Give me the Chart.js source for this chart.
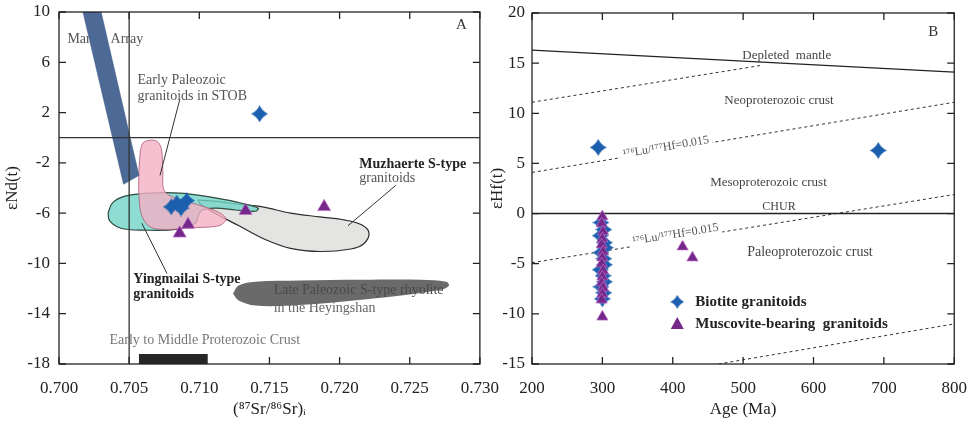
<!DOCTYPE html>
<html>
<head>
<meta charset="utf-8">
<script src="https://cdn.jsdelivr.net/npm/chart.js@4.4.1/dist/chart.umd.min.js"></script>
<style>
  html, body { margin: 0; padding: 0; background: #fff; }
  #wrap { position: relative; width: 975px; height: 422px; overflow: hidden; }
  .panel { position: absolute; top: 0; height: 422px; }
  #panelA { left: 0; width: 513px; }
  #panelB { left: 487px; width: 494px; }
</style>
</head>
<body>
<div id="wrap">
  <div class="panel" id="panelA"><canvas id="chartA"></canvas></div>
  <div class="panel" id="panelB"><canvas id="chartB"></canvas></div>
</div>
<script>
// ---------- Panel A: eNd(t) vs (87Sr/86Sr)i ----------
const srTicks = [0.700, 0.705, 0.710, 0.715, 0.720, 0.725, 0.730];
const ndTicks = [10, 6, 2, -2, -6, -10, -14, -18];

const biotiteA = [
  {x: 0.7143, y: 1.9},
  {x: 0.7080, y: -5.5}, {x: 0.7084, y: -5.2}, {x: 0.7091, y: -5.0}, {x: 0.7087, y: -5.6}
];
const muscoviteA = [
  {x: 0.7086, y: -7.6}, {x: 0.7092, y: -6.9}, {x: 0.7133, y: -5.8}, {x: 0.7189, y: -5.5}
];

// reference fields (outlines in data units)
const mantleArray = [
  {x: 0.7016, y: 10.5}, {x: 0.7029, y: 10.5}, {x: 0.7057, y: -3.0}, {x: 0.7046, y: -3.7}, {x: 0.7016, y: 10.5}
];
const stobField = [
  {x: 0.7058, y: -1.0}, {x: 0.7060, y: -0.4}, {x: 0.7065, y: -0.2}, {x: 0.7070, y: -0.3}, {x: 0.7073, y: -0.9},
  {x: 0.7074, y: -2.6}, {x: 0.7075, y: -4.2}, {x: 0.7083, y: -4.8}, {x: 0.7101, y: -5.4}, {x: 0.7115, y: -6.0},
  {x: 0.7119, y: -6.5}, {x: 0.7114, y: -7.0}, {x: 0.7097, y: -7.15}, {x: 0.7076, y: -7.3}, {x: 0.7065, y: -7.1},
  {x: 0.7059, y: -6.2}, {x: 0.7057, y: -4.6}, {x: 0.7057, y: -2.6}, {x: 0.7058, y: -1.0}
];
const yingmailaiField = [
  {x: 0.7035, y: -6.0}, {x: 0.7038, y: -5.2}, {x: 0.7047, y: -4.65}, {x: 0.7065, y: -4.4}, {x: 0.7086, y: -4.4},
  {x: 0.7104, y: -4.65}, {x: 0.7126, y: -5.1}, {x: 0.7142, y: -5.6}, {x: 0.7140, y: -5.85}, {x: 0.7126, y: -5.75},
  {x: 0.7111, y: -5.6}, {x: 0.7101, y: -5.85}, {x: 0.7097, y: -6.8}, {x: 0.7083, y: -7.3}, {x: 0.7061, y: -7.35},
  {x: 0.7044, y: -7.2}, {x: 0.7036, y: -6.6}, {x: 0.7035, y: -6.0}
];
const muzhaerteField = [
  {x: 0.7099, y: -4.95}, {x: 0.7111, y: -5.05}, {x: 0.7129, y: -5.3}, {x: 0.7145, y: -5.5}, {x: 0.7165, y: -6.0},
  {x: 0.7186, y: -6.3}, {x: 0.7204, y: -6.55}, {x: 0.7216, y: -6.95}, {x: 0.7221, y: -7.6}, {x: 0.7217, y: -8.45},
  {x: 0.7208, y: -8.85}, {x: 0.7186, y: -9.05}, {x: 0.7165, y: -8.8}, {x: 0.7147, y: -8.1}, {x: 0.7129, y: -7.05},
  {x: 0.7111, y: -6.0}, {x: 0.7101, y: -5.3}, {x: 0.7099, y: -4.95}
];
const heyingshanField = [
  {x: 0.7124, y: -12.4}, {x: 0.7128, y: -11.75}, {x: 0.7140, y: -11.45}, {x: 0.7172, y: -11.35}, {x: 0.7215, y: -11.3},
  {x: 0.7258, y: -11.3}, {x: 0.7276, y: -11.45}, {x: 0.7278, y: -11.75}, {x: 0.7272, y: -12.1}, {x: 0.7244, y: -12.55},
  {x: 0.7201, y: -13.05}, {x: 0.7165, y: -13.35}, {x: 0.7140, y: -13.35}, {x: 0.7128, y: -12.95}, {x: 0.7124, y: -12.4}
];
const crustBox = [
  {x: 0.7057, y: -17.2}, {x: 0.7106, y: -17.2}, {x: 0.7106, y: -18}, {x: 0.7057, y: -18}, {x: 0.7057, y: -17.2}
];
const chondriteNd = [{x: 0.700, y: 0}, {x: 0.730, y: 0}];
const bulkEarthSr = [{x: 0.705, y: -18}, {x: 0.705, y: 10}];
const leaderStob = [{x: 0.7086, y: 3.0}, {x: 0.7072, y: -3.0}];
const leaderMuzhaerte = [{x: 0.7240, y: -3.8}, {x: 0.7206, y: -7.0}];
const leaderYingmailai = [{x: 0.7059, y: -6.8}, {x: 0.7077, y: -10.8}];

// ---------- Panel B: eHf(t) vs age ----------
const ageTicks = [200, 300, 400, 500, 600, 700, 800];
const hfTicks = [20, 15, 10, 5, 0, -5, -10, -15];

const biotiteB = [
  {x: 294, y: 6.6}, {x: 692, y: 6.3},
  {x: 298, y: -0.9}, {x: 302, y: -1.6}, {x: 297, y: -2.2}, {x: 303, y: -2.9}, {x: 304, y: -3.4},
  {x: 298, y: -3.9}, {x: 302, y: -4.5}, {x: 303, y: -5.1}, {x: 297, y: -5.6}, {x: 301, y: -6.2},
  {x: 303, y: -6.8}, {x: 298, y: -7.3}, {x: 302, y: -7.9}, {x: 300, y: -8.5}
];
const muscoviteB = [
  {x: 300, y: -10.3}, {x: 414, y: -3.3}, {x: 428, y: -4.4},
  {x: 300, y: -0.3}, {x: 299, y: -1.0}, {x: 301, y: -1.8}, {x: 300, y: -2.5}, {x: 299, y: -3.1},
  {x: 301, y: -3.8}, {x: 300, y: -4.4}, {x: 299, y: -5.0}, {x: 301, y: -5.7}, {x: 300, y: -6.3},
  {x: 299, y: -6.9}, {x: 301, y: -7.4}, {x: 300, y: -8.0}, {x: 299, y: -8.6}
];
const depletedMantle = [{x: 200, y: 16.3}, {x: 800, y: 14.1}];
const churLine = [{x: 200, y: 0}, {x: 800, y: 0}];
const crustLine1 = [{x: 200, y: 11.1}, {x: 528, y: 14.8}];
const crustLine2 = [{x: 200, y: 4.1}, {x: 800, y: 11.1}];
const crustLine3 = [{x: 200, y: -4.9}, {x: 800, y: 1.9}];
const crustLine4 = [{x: 465, y: -15.0}, {x: 800, y: -11.0}];

const serif = '"Liberation Serif", "Times New Roman", serif';
const BLUE = '#1b5fae';
const PURPLE = '#74288a';

// four-point star used for the biotite symbol
function starImage(size, color) {
  const c = document.createElement('canvas');
  c.width = c.height = size;
  const g = c.getContext('2d');
  const h = size / 2, k = h * 0.32;
  g.fillStyle = color;
  g.beginPath();
  g.moveTo(h, 0);
  g.quadraticCurveTo(h + k, h - k, size, h);
  g.quadraticCurveTo(h + k, h + k, h, size);
  g.quadraticCurveTo(h - k, h + k, 0, h);
  g.quadraticCurveTo(h - k, h - k, h, 0);
  g.fill();
  return c;
}
const starBig = starImage(17, BLUE);
const starSmall = starImage(14, BLUE);

function field(data, fill, border, width, tension, order) {
  return {data, showLine: true, fill: 'shape', backgroundColor: fill, borderColor: border,
    borderWidth: width, pointRadius: 0, tension, order};
}
function line(data, color, width, dash, order) {
  return {data, showLine: true, fill: false, borderColor: color, borderWidth: width,
    borderDash: dash, pointRadius: 0, tension: 0, order};
}
function triangles(data, r, order) {
  return {data, showLine: false, pointStyle: 'triangle', pointRadius: r,
    backgroundColor: PURPLE, borderColor: 'rgba(190,110,200,0.7)', borderWidth: 1, order};
}
function stars(data, img, order) {
  return {data, showLine: false, pointStyle: img, pointRadius: 8, order};
}

// lh: label line height, kept small on the y axes so the top label overhang stays inside the padding
function linearAxis(values, min, max, size, fmt, title, tickPad, titlePad, lh) {
  return {
    type: 'linear', min, max,
    afterBuildTicks: s => { s.ticks = values.map(v => ({value: v})); },
    afterFit: s => { if (s.isHorizontal()) s.height = size; else s.width = size; },
    grid: {display: false, drawTicks: false},
    border: {display: false},
    ticks: {autoSkip: false, maxRotation: 0, padding: tickPad, color: '#222',
      font: {family: serif, size: 17, lineHeight: lh}, callback: fmt},
    title: {display: true, text: title, color: '#222', font: {family: serif, size: 17}, padding: titlePad}
  };
}

// box frame with inward ticks on all four sides
const frameTicks = {
  id: 'frameTicks',
  afterDraw(chart) {
    const {ctx, chartArea: a, scales: {x, y}} = chart;
    ctx.save();
    ctx.strokeStyle = '#222';
    ctx.lineWidth = 1.3;
    ctx.strokeRect(a.left, a.top, a.right - a.left, a.bottom - a.top);
    ctx.beginPath();
    x.ticks.forEach(t => {
      const p = x.getPixelForValue(t.value);
      ctx.moveTo(p, a.bottom); ctx.lineTo(p, a.bottom - 7);
      ctx.moveTo(p, a.top); ctx.lineTo(p, a.top + 7);
    });
    y.ticks.forEach(t => {
      const p = y.getPixelForValue(t.value);
      ctx.moveTo(a.left, p); ctx.lineTo(a.left + 7, p);
      ctx.moveTo(a.right, p); ctx.lineTo(a.right - 7, p);
    });
    ctx.stroke();
    ctx.restore();
  }
};

function yOnLine(pts, x) {
  const [p, q] = pts;
  return p.y + (q.y - p.y) * (x - p.x) / (q.x - p.x);
}

function drawMarker(ctx, kind, px, py) {
  if (kind === 'star') {
    ctx.drawImage(starSmall, px - 7, py - 7);
  } else {
    ctx.fillStyle = PURPLE;
    ctx.beginPath();
    ctx.moveTo(px, py - 7);
    ctx.lineTo(px + 6.5, py + 5);
    ctx.lineTo(px - 6.5, py + 5);
    ctx.closePath();
    ctx.fill();
  }
}

function drawNotes(chart, items) {
  const {ctx, scales: {x, y}} = chart;
  items.forEach(n => {
    let vy = n.y;
    let angle = 0;
    if (n.on) {
      vy = yOnLine(n.on, n.x);
      const a = n.on[0], b = n.on[1];
      angle = Math.atan2(y.getPixelForValue(b.y) - y.getPixelForValue(a.y),
        x.getPixelForValue(b.x) - x.getPixelForValue(a.x));
    }
    ctx.save();
    ctx.translate(x.getPixelForValue(n.x), y.getPixelForValue(vy));
    ctx.rotate(angle);
    ctx.font = (n.bold ? 'bold ' : '') + (n.size || 13) + 'px ' + serif;
    ctx.textAlign = n.align || 'left';
    ctx.textBaseline = 'middle';
    const dy = n.offset || 0;
    if (n.on) {
      const w = ctx.measureText(n.text).width;
      ctx.fillStyle = '#fff';
      ctx.fillRect(-w / 2 - 3, dy - 7, w + 6, 14);
    }
    if (n.marker) drawMarker(ctx, n.marker, -18, 0);
    ctx.fillStyle = n.color || '#333';
    ctx.fillText(n.text, 0, dy);
    ctx.restore();
  });
}
function notesPlugin(items) {
  return {
    id: 'notes',
    beforeDatasetsDraw(chart) { drawNotes(chart, items.filter(n => n.under)); },
    afterDatasetsDraw(chart) { drawNotes(chart, items.filter(n => !n.under)); }
  };
}

const notesA = [
  {text: 'Mantle Array', x: 0.7006, y: 7.8, size: 14, color: '#555', under: true},
  {text: 'A', x: 0.7283, y: 9.0, size: 15, color: '#333'},
  {text: 'Early Paleozoic', x: 0.7056, y: 4.6, size: 14, color: '#555'},
  {text: 'granitoids in STOB', x: 0.7056, y: 3.3, size: 14, color: '#555'},
  {text: 'Muzhaerte S-type', x: 0.7214, y: -2.1, size: 14, bold: true, color: '#222'},
  {text: 'granitoids', x: 0.7214, y: -3.2, size: 14, color: '#555'},
  {text: 'Yingmailai S-type', x: 0.7053, y: -11.3, size: 14, bold: true, color: '#222'},
  {text: 'granitoids', x: 0.7053, y: -12.5, size: 14, bold: true, color: '#222'},
  {text: 'Late Paleozoic S-type rhyolite', x: 0.7153, y: -12.1, size: 14, color: '#4a4a4a'},
  {text: 'in the Heyingshan', x: 0.7153, y: -13.6, size: 14, color: '#666'},
  {text: 'Early to Middle Proterozoic Crust', x: 0.7036, y: -16.1, size: 14, color: '#777'}
];

const notesB = [
  {text: 'B', x: 763, y: 18.1, size: 15, color: '#333'},
  {text: 'Depleted  mantle', x: 562, y: 15.8, size: 13, align: 'center', color: '#444'},
  {text: 'Neoproterozoic crust', x: 551, y: 11.3, size: 13, align: 'center', color: '#444'},
  {text: 'Mesoproterozoic crust', x: 536, y: 3.1, size: 13, align: 'center', color: '#444'},
  {text: 'CHUR', x: 551, y: 0.7, size: 12, align: 'center', color: '#444'},
  {text: 'Paleoproterozoic crust', x: 595, y: -3.9, size: 14, align: 'center', color: '#444'},
  {text: '¹⁷⁶Lu/¹⁷⁷Hf=0.015', x: 391, on: crustLine2, offset: -3, size: 12, align: 'center', color: '#555'},
  {text: '¹⁷⁶Lu/¹⁷⁷Hf=0.015', x: 405, on: crustLine3, offset: -5, size: 12, align: 'center', color: '#555'},
  {text: 'Biotite granitoids', x: 432, y: -8.8, size: 15, bold: true, color: '#222', marker: 'star'},
  {text: 'Muscovite-bearing  granitoids', x: 432, y: -11.0, size: 15, bold: true, color: '#222', marker: 'triangle'}
];

const baseOptions = (pad) => ({
  responsive: true,
  maintainAspectRatio: false,
  animation: false,
  events: [],
  layout: {padding: pad},
  plugins: {legend: {display: false}, tooltip: {enabled: false}}
});

const optsA = baseOptions({left: 0, top: 12, right: 25, bottom: 0});
optsA.scales = {
  x: linearAxis(srTicks, 0.700, 0.730, 58, v => v.toFixed(3), '(⁸⁷Sr/⁸⁶Sr)ᵢ', 14, {top: 0, bottom: 2}, 1.2),
  y: linearAxis(ndTicks, -18, 10, 59, v => String(v), 'εNd(t)', 9, {top: 2, bottom: 0}, 0.3)
};

new Chart(document.getElementById('chartA'), {
  type: 'scatter',
  data: {
    datasets: [
      stars(biotiteA, starBig, 0),
      triangles(muscoviteA, 7.5, 1),
      line(chondriteNd, '#333', 1.3, [], 2),
      line(bulkEarthSr, '#333', 1.3, [], 2),
      line(leaderStob, '#333', 1, [], 2),
      line(leaderMuzhaerte, '#333', 1, [], 2),
      line(leaderYingmailai, '#333', 1, [], 2),
      field(mantleArray, '#4d6996', '#3f5a86', 0.5, 0, 3),
      field(stobField, 'rgba(244,176,196,0.8)', 'rgba(170,90,115,0.8)', 1, 0.35, 4),
      field(yingmailaiField, 'rgba(112,212,200,0.8)', '#2f4a40', 1.2, 0.35, 5),
      field(muzhaerteField, '#e4e4e2', '#2d2d2d', 1.2, 0.35, 6),
      field(heyingshanField, '#6a6a6a', 'rgba(0,0,0,0)', 0, 0.35, 7),
      field(crustBox, '#262626', '#262626', 0, 0, 7)
    ]
  },
  options: optsA,
  plugins: [frameTicks, notesPlugin(notesA)]
});

const optsB = baseOptions({left: 0, top: 13, right: 22, bottom: 0});
optsB.scales = {
  x: linearAxis(ageTicks, 200, 800, 58, v => String(v), 'Age (Ma)', 14, {top: 0, bottom: 2}, 1.2),
  y: linearAxis(hfTicks, -15, 20, 45, v => String(v), 'εHf(t)', 7, {top: 0, bottom: 0}, 0.5)
};

new Chart(document.getElementById('chartB'), {
  type: 'scatter',
  data: {
    datasets: [
      triangles(muscoviteB, 6.5, 0),
      stars(biotiteB, starBig, 1),
      line(depletedMantle, '#222', 1.4, [], 2),
      line(churLine, '#222', 1.4, [], 2),
      line(crustLine1, '#333', 1, [3, 3], 2),
      line(crustLine2, '#333', 1, [3, 3], 2),
      line(crustLine3, '#333', 1, [3, 3], 2),
      line(crustLine4, '#333', 1, [3, 3], 2)
    ]
  },
  options: optsB,
  plugins: [frameTicks, notesPlugin(notesB)]
});
</script>
</body>
</html>
